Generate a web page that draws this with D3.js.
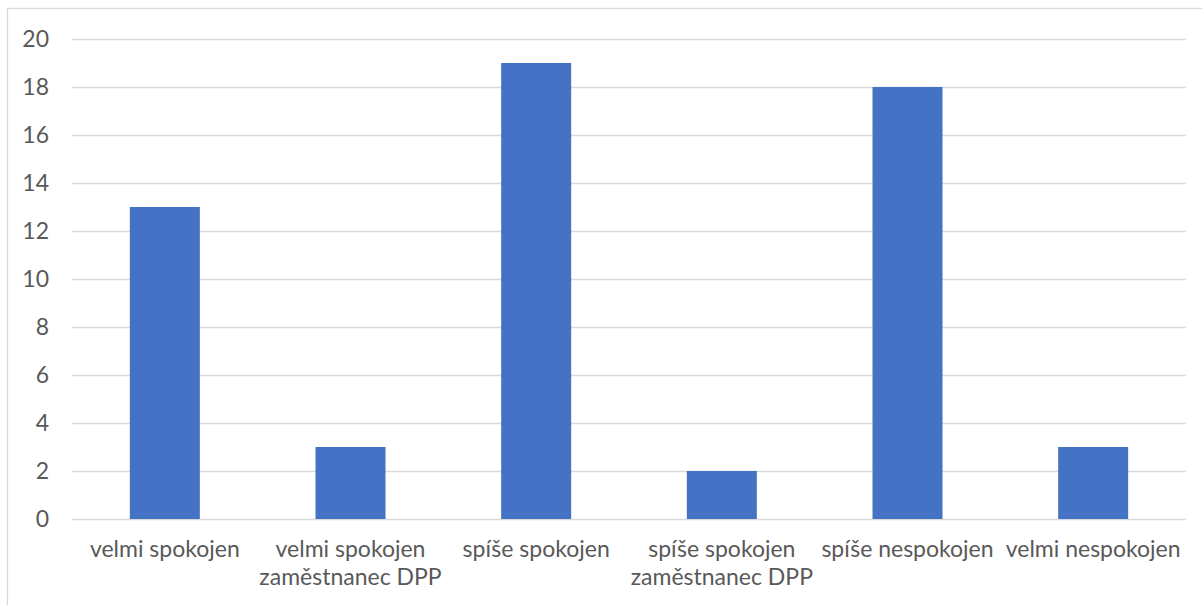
<!DOCTYPE html>
<html>
<head>
<meta charset="utf-8">
<script src="https://cdn.jsdelivr.net/npm/d3@7"></script>
<style>
  html, body { margin: 0; padding: 0; background: #fff; }
  svg { display: block; }
  text { font-family: Lato, "Open Sans", sans-serif; fill: #595959; }
</style>
</head>
<body>
<svg id="chart" width="1202" height="605"></svg>
<script>
// Spokojenost respondentů – počty odpovědí
const categories = [
  "velmi spokojen",
  "velmi spokojen\nzaměstnanec DPP",
  "spíše spokojen",
  "spíše spokojen\nzaměstnanec DPP",
  "spíše nespokojen",
  "velmi nespokojen"
];
const counts = [13, 3, 19, 2, 18, 3];
const yTicks = [0, 2, 4, 6, 8, 10, 12, 14, 16, 18, 20];

const svg = d3.select("#chart");
const W = 1202, H = 605;
const plot = { left: 72, right: 1186, top: 39, bottom: 519 };
const fontSize = 23;

// chart frame
svg.append("rect")
  .attr("x", 7.5).attr("y", 8.5)
  .attr("width", W).attr("height", H)
  .attr("fill", "#fff")
  .attr("stroke", "#d9d9d9")
  .attr("stroke-width", 1.3);

const x = d3.scaleBand()
  .domain(categories)
  .range([plot.left, plot.right])
  .paddingInner(0.623)
  .paddingOuter(0.3115);

const y = d3.scaleLinear()
  .domain([0, 20])
  .range([plot.bottom, plot.top]);

// value axis with full-width gridlines
const yAxis = svg.append("g")
  .attr("transform", `translate(${plot.left},0)`)
  .call(d3.axisLeft(y)
    .tickValues(yTicks)
    .tickSize(-(plot.right - plot.left))
    .tickPadding(23)
    .tickFormat(d3.format("d")));
yAxis.select(".domain").remove();
yAxis.selectAll(".tick line")
  .attr("stroke", "#d9d9d9")
  .attr("stroke-width", 1.3);
yAxis.selectAll(".tick text")
  .attr("font-size", fontSize)
  .attr("font-family", null)
  .attr("fill", "#595959");

// bars
svg.append("g")
  .selectAll("rect")
  .data(categories)
  .join("rect")
  .attr("x", d => x(d))
  .attr("width", x.bandwidth())
  .attr("y", (d, i) => y(counts[i]))
  .attr("height", (d, i) => y(0) - y(counts[i]))
  .attr("fill", "#4472c4");

// category labels (one or two lines)
const labels = svg.append("g")
  .selectAll("text")
  .data(categories)
  .join("text")
  .attr("text-anchor", "middle")
  .attr("font-size", fontSize)
  .attr("x", d => x(d) + x.bandwidth() / 2)
  .attr("y", 557);
labels.each(function (d) {
  const t = d3.select(this);
  d.split("\n").forEach((line, k) => {
    t.append("tspan")
      .attr("x", x(d) + x.bandwidth() / 2)
      .attr("dy", k === 0 ? 0 : 28)
      .text(line);
  });
});
</script>
</body>
</html>
